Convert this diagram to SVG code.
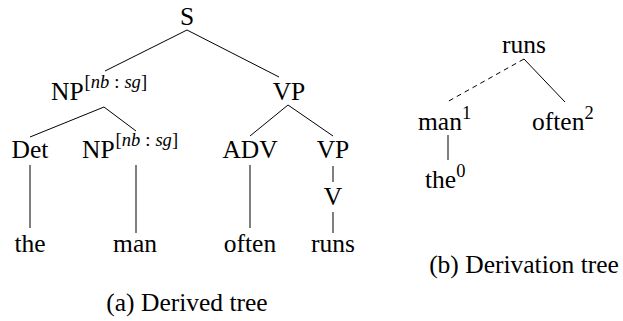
<svg xmlns="http://www.w3.org/2000/svg" width="623" height="321" viewBox="0 0 623 321">
<style>
text{font-family:"Liberation Serif","Times New Roman",serif;font-size:25.5px;fill:#000}
.c{text-anchor:middle}
.sup{font-size:18.5px}
.it{font-style:italic}
.e{stroke:#000;stroke-width:1;fill:none}
.d{stroke-dasharray:5 4}
</style>
<rect width="623" height="321" fill="#fff"/>
<g id="connectors">
<line class="e" x1="187" y1="30" x2="105" y2="71"/>
<line class="e" x1="187" y1="30" x2="279" y2="77"/>
<line class="e" x1="104" y1="107" x2="30" y2="137"/>
<line class="e" x1="104" y1="107" x2="136" y2="131"/>
<line class="e" x1="288" y1="105" x2="250" y2="136"/>
<line class="e" x1="288" y1="105" x2="333" y2="136"/>
<line class="e" x1="30" y1="165" x2="30" y2="228"/>
<line class="e" x1="136" y1="165" x2="136" y2="233"/>
<line class="e" x1="250" y1="165" x2="250" y2="228"/>
<line class="e" x1="333" y1="166" x2="333" y2="182"/>
<line class="e" x1="333" y1="212" x2="333" y2="233"/>
<line class="e d" x1="524" y1="59" x2="447" y2="102"/>
<line class="e" x1="524" y1="59" x2="565" y2="102"/>
<line class="e" x1="448" y1="135" x2="448" y2="160"/>
</g>
<g id="S"><text class="c" x="187" y="25">S</text></g>
<g id="NP1"><text x="51" y="100">NP<tspan class="sup" dx="1" dy="-12">[<tspan class="it">nb</tspan><tspan dx="5">:</tspan><tspan class="it" dx="5">sg</tspan>]</tspan></text></g>
<g id="VP1"><text class="c" x="289" y="100">VP</text></g>
<g id="Det"><text class="c" x="30" y="158">Det</text></g>
<g id="NP2"><text x="82" y="158">NP<tspan class="sup" dx="1" dy="-12">[<tspan class="it">nb</tspan><tspan dx="5">:</tspan><tspan class="it" dx="5">sg</tspan>]</tspan></text></g>
<g id="ADV"><text class="c" x="250" y="158">ADV</text></g>
<g id="VP2"><text class="c" x="333" y="158">VP</text></g>
<g id="V"><text class="c" x="333" y="205">V</text></g>
<g id="the"><text class="c" x="30" y="252">the</text></g>
<g id="man"><text class="c" x="135" y="252">man</text></g>
<g id="often"><text class="c" x="250" y="252">often</text></g>
<g id="runs"><text class="c" x="333" y="252">runs</text></g>
<g id="caption-a"><text class="c" x="187" y="311">(a) Derived tree</text></g>
<g id="d-runs"><text class="c" x="524" y="53">runs</text></g>
<g id="d-man"><text x="418" y="130">man<tspan class="sup" dy="-11">1</tspan></text></g>
<g id="d-often"><text x="532" y="130">often<tspan class="sup" dy="-11">2</tspan></text></g>
<g id="d-the"><text x="425" y="188">the<tspan class="sup" dy="-11">0</tspan></text></g>
<g id="caption-b"><text class="c" x="524" y="273">(b) Derivation tree</text></g>
</svg>
